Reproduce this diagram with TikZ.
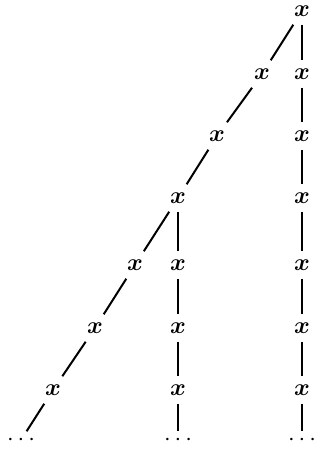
\documentclass[tikz,border=0pt]{standalone}
\usetikzlibrary{positioning}

\begin{document}
\begin{tikzpicture}[
  x=0.5pt, y=-0.5pt,
  var/.style={inner sep=4pt, font=\large\boldmath},
  cont/.style={inner sep=1.5pt, font=\large},
  edge/.style={line width=1pt}
]
\useasboundingbox (0,0) rectangle (325,454);

\node[var] (top) at (302,11) {$x$};
\node[var] (d1) at (262,74) {$x$};
\node[var] (d2) at (217,136) {$x$};
\node[var] (d3) at (178,198) {$x$};
\node[var] (d4) at (135,265) {$x$};
\node[var] (d5) at (95,328) {$x$};
\node[var] (d6) at (53,390) {$x$};
\node[cont] (dend) at (21,440) {$\cdots$};

\node[var] (r1) at (302,74) {$x$};
\node[var] (r2) at (302,136) {$x$};
\node[var] (r3) at (302,198) {$x$};
\node[var] (r4) at (302,265) {$x$};
\node[var] (r5) at (302,328) {$x$};
\node[var] (r6) at (302,390) {$x$};
\node[cont] (rend) at (302,440) {$\cdots$};

\node[var] (m1) at (178,265) {$x$};
\node[var] (m2) at (178,328) {$x$};
\node[var] (m3) at (178,390) {$x$};
\node[cont] (mend) at (178,440) {$\cdots$};

\draw[edge] (top) -- (d1) -- (d2) -- (d3) -- (d4) -- (d5) -- (d6) -- (dend);
\draw[edge] (top) -- (r1) -- (r2) -- (r3) -- (r4) -- (r5) -- (r6) -- (rend);
\draw[edge] (d3) -- (m1) -- (m2) -- (m3) -- (mend);
\end{tikzpicture}
\end{document}
